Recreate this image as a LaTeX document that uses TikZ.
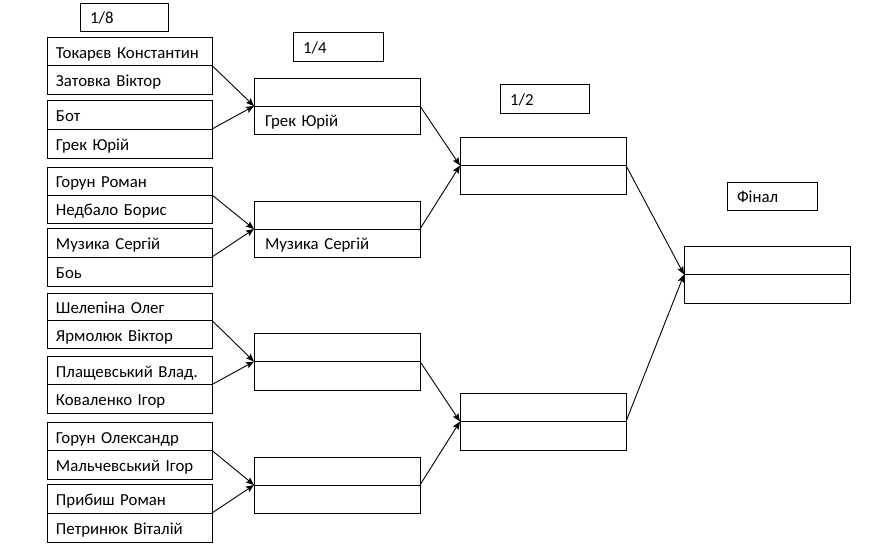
\documentclass[tikz,border=0pt]{standalone}
\usepackage{fontspec}
\setmainfont{Carlito}
\usetikzlibrary{arrows.meta}
\newcommand\cellfont{\fontsize{16.8}{19}\selectfont}
\tikzset{
  cell/.style={draw, line width=1pt, rectangle, anchor=north west, inner xsep=9pt, inner ysep=0pt, outer sep=0pt, text width=147pt, text height=13.5pt, text depth=0pt, align=left, font=\cellfont},
  wcell/.style={cell, inner xsep=11pt, text width=144pt},
  lab/.style={draw, line width=1pt, rectangle, anchor=north west, inner xsep=10pt, inner ysep=0pt, outer sep=0pt, text height=13.5pt, text depth=0pt, align=left, font=\cellfont},
  arr/.style={line width=0.9pt, -{Stealth[length=8pt,width=6.5pt,inset=1.5pt]}}
}
\begin{document}
\begin{tikzpicture}[x=1pt,y=-1pt]
\useasboundingbox (0,0) rectangle (895,547);
% labels
\node[lab, text width=68pt, minimum height=28pt] (l8) at (80,3) {1/8};
\node[lab, text width=70pt, minimum height=29pt] (l4) at (293,32) {1/4};
\node[lab, text width=69pt, minimum height=29pt] (l2) at (500,84) {1/2};
\node[lab, text width=70pt, minimum height=28pt] (lf) at (727,182) {Фінал};
% round of 16
\node[cell, minimum height=28.5pt] (p1a) at (47,37) {Токарєв Константин};
\node[cell, minimum height=28.5pt] (p1b) at (p1a.south west) {Затовка Віктор};
\node[cell, minimum height=29pt] (p2a) at (47,100) {Бот};
\node[cell, minimum height=29pt] (p2b) at (p2a.south west) {Грек Юрій};
\node[cell, minimum height=28pt] (p3a) at (47,167) {Горун Роман};
\node[cell, minimum height=28pt] (p3b) at (p3a.south west) {Недбало Борис};
\node[cell, minimum height=29pt] (p4a) at (47,228) {Музика Сергій};
\node[cell, minimum height=29pt] (p4b) at (p4a.south west) {Боь};
\node[cell, minimum height=27.5pt] (p5a) at (47,293) {Шелепіна Олег};
\node[cell, minimum height=27.5pt] (p5b) at (p5a.south west) {Ярмолюк Віктор};
\node[cell, minimum height=28.5pt] (p6a) at (47,356) {Плащевський Влад.};
\node[cell, minimum height=28.5pt] (p6b) at (p6a.south west) {Коваленко Ігор};
\node[cell, minimum height=28.5pt] (p7a) at (47,422) {Горун Олександр};
\node[cell, minimum height=28.5pt] (p7b) at (p7a.south west) {Мальчевський Ігор};
\node[cell, minimum height=29pt] (p8a) at (47,484) {Прибиш Роман};
\node[cell, minimum height=29pt] (p8b) at (p8a.south west) {Петринюк Віталій};
% quarter finals
\node[wcell, minimum height=28pt] (q1a) at (254,78) {};
\node[wcell, minimum height=28pt] (q1b) at (q1a.south west) {Грек Юрій};
\node[wcell, minimum height=28pt] (q2a) at (254,201) {};
\node[wcell, minimum height=28pt] (q2b) at (q2a.south west) {Музика Сергій};
\node[wcell, minimum height=28.5pt] (q3a) at (254,333) {};
\node[wcell, minimum height=28.5pt] (q3b) at (q3a.south west) {};
\node[wcell, minimum height=28pt] (q4a) at (254,457) {};
\node[wcell, minimum height=28pt] (q4b) at (q4a.south west) {};
% semi finals
\node[wcell, minimum height=28.5pt] (s1a) at (460,137) {};
\node[wcell, minimum height=28.5pt] (s1b) at (s1a.south west) {};
\node[wcell, minimum height=28.5pt] (s2a) at (460,393) {};
\node[wcell, minimum height=28.5pt] (s2b) at (s2a.south west) {};
% final
\node[wcell, minimum height=28.5pt] (fa) at (684,246) {};
\node[wcell, minimum height=28.5pt] (fb) at (fa.south west) {};
% connectors
\draw[arr] (p1a.south east) -- (q1a.south west);
\draw[arr] (p2a.south east) -- (q1a.south west);
\draw[arr] (p3a.south east) -- (q2a.south west);
\draw[arr] (p4a.south east) -- (q2a.south west);
\draw[arr] (p5a.south east) -- (q3a.south west);
\draw[arr] (p6a.south east) -- (q3a.south west);
\draw[arr] (p7a.south east) -- (q4a.south west);
\draw[arr] (p8a.south east) -- (q4a.south west);
\draw[arr] (q1a.south east) -- (s1a.south west);
\draw[arr] (q2a.south east) -- (s1a.south west);
\draw[arr] (q3a.south east) -- (s2a.south west);
\draw[arr] (q4a.south east) -- (s2a.south west);
\draw[arr] (s1a.south east) -- (fa.south west);
\draw[arr] (s2a.south east) -- (fa.south west);
\end{tikzpicture}
\end{document}
